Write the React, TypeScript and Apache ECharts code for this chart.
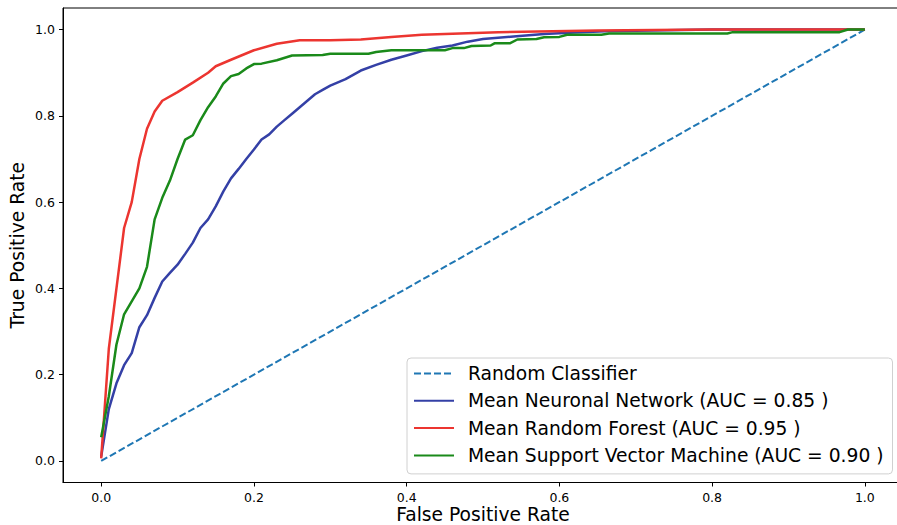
import React, { useEffect, useRef } from "react";
import * as echarts from "echarts";

// Random classifier diagonal
const randomX = [0, 1];
const randomY = [0, 1];

// Mean Neuronal Network ROC
const nnX = [0, 0.01, 0.02, 0.03, 0.04, 0.05, 0.06, 0.07, 0.08, 0.09, 0.1, 0.11, 0.12, 0.13, 0.14, 0.15, 0.16, 0.17, 0.18, 0.19, 0.2, 0.21, 0.22, 0.23, 0.24, 0.25, 0.26, 0.27, 0.28, 0.29, 0.3, 0.32, 0.34, 0.36, 0.38, 0.4, 0.42, 0.44, 0.46, 0.48, 0.5, 0.54, 0.58, 0.62, 0.66, 0.72, 0.8, 1.0];
const nnY = [0.01, 0.12, 0.18, 0.222, 0.25, 0.31, 0.338, 0.378, 0.416, 0.436, 0.455, 0.48, 0.506, 0.54, 0.56, 0.59, 0.625, 0.655, 0.677, 0.7, 0.722, 0.745, 0.757, 0.775, 0.79, 0.805, 0.82, 0.835, 0.85, 0.86, 0.87, 0.885, 0.905, 0.918, 0.93, 0.94, 0.95, 0.958, 0.963, 0.972, 0.978, 0.984, 0.99, 0.993, 0.996, 0.998, 1.0, 1.0];

// Mean Random Forest ROC
const rfX = [0, 0.01, 0.02, 0.03, 0.04, 0.05, 0.06, 0.07, 0.08, 0.1, 0.12, 0.14, 0.15, 0.17, 0.2, 0.23, 0.26, 0.3, 0.34, 0.38, 0.42, 0.52, 0.65, 0.8, 1.0];
const rfY = [0.006, 0.26, 0.4, 0.54, 0.6, 0.7, 0.77, 0.81, 0.835, 0.855, 0.877, 0.9, 0.915, 0.93, 0.952, 0.967, 0.975, 0.975, 0.977, 0.983, 0.988, 0.994, 0.998, 1.0, 1.0];

// Mean Support Vector Machine ROC
const svmX = [0, 0.01, 0.02, 0.03, 0.04, 0.05, 0.06, 0.07, 0.08, 0.09, 0.1, 0.11, 0.12, 0.13, 0.14, 0.15, 0.16, 0.17, 0.18, 0.19, 0.2, 0.21, 0.23, 0.25, 0.29, 0.3, 0.35, 0.36, 0.38, 0.45, 0.46, 0.475, 0.485, 0.51, 0.515, 0.535, 0.545, 0.57, 0.58, 0.6, 0.61, 0.655, 0.665, 0.82, 0.827, 0.967, 0.978, 1.0];
const svmY = [0.055, 0.15, 0.27, 0.34, 0.37, 0.4, 0.45, 0.56, 0.61, 0.65, 0.7, 0.745, 0.755, 0.79, 0.82, 0.845, 0.875, 0.892, 0.897, 0.91, 0.92, 0.921, 0.929, 0.94, 0.941, 0.944, 0.944, 0.948, 0.952, 0.952, 0.957, 0.957, 0.962, 0.963, 0.968, 0.968, 0.977, 0.978, 0.982, 0.983, 0.988, 0.988, 0.991, 0.991, 0.994, 0.994, 1.0, 1.0];

const tickValues = [0, 0.2, 0.4, 0.6, 0.8, 1.0];

const seriesNames = [
  "Random Classifier",
  "Mean Neuronal Network (AUC = 0.85 )",
  "Mean Random Forest (AUC = 0.95 )",
  "Mean Support Vector Machine (AUC = 0.90 )",
];

const zip = (xs: number[], ys: number[]) => xs.map((x, i) => [x, ys[i]]);

const FONT = "DejaVu Sans";

export default function App() {
  const ref = useRef<HTMLDivElement>(null);
  useEffect(() => {
    if (!ref.current) return;
    const chart = echarts.init(ref.current, undefined, { renderer: "svg" });
    const axisCommon = {
      type: "value" as const,
      min: -0.05,
      max: 1.05,
      splitLine: { show: false },
      axisLine: { show: true, onZero: false, lineStyle: { color: "#000", width: 1 } },
      axisTick: { show: true, length: 4, lineStyle: { color: "#000", width: 1 }, customValues: tickValues },
      axisLabel: {
        color: "#000",
        fontSize: 12.5,
        fontFamily: FONT,
        customValues: tickValues,
        formatter: (v: number) => v.toFixed(1),
      },
      nameLocation: "middle" as const,
      nameMoveOverlap: false,
      nameTextStyle: { color: "#000", fontSize: 18.7, fontFamily: FONT, lineHeight: 19 },
    };
    chart.setOption({
      animation: false,
      backgroundColor: "#fff",
      grid: {
        left: 63,
        top: 8,
        right: -6,
        bottom: 42.5,
        containLabel: false,
        outerBoundsMode: "none",
        show: true,
        borderColor: "#000",
        borderWidth: 1,
        backgroundColor: "transparent",
      },
      xAxis: {
        ...axisCommon,
        name: "False Positive Rate",
        nameGap: 22,
        axisLabel: { ...axisCommon.axisLabel, margin: 8 },
      },
      yAxis: {
        ...axisCommon,
        name: "True Positive Rate",
        nameGap: 36,
        axisLabel: { ...axisCommon.axisLabel, margin: 8 },
      },
      legend: {
        orient: "vertical",
        left: 407,
        top: 358,
        data: seriesNames,
        itemWidth: 40,
        itemHeight: 14,
        itemGap: 8.3,
        padding: [6, 9, 9, 6],
        backgroundColor: "rgba(255,255,255,0.85)",
        borderColor: "#d0d0d0",
        borderWidth: 1,
        borderRadius: 4,
        itemStyle: { opacity: 0 },
        textStyle: {
          color: "#000",
          fontSize: 18.7,
          fontFamily: FONT,
          lineHeight: 19,
          padding: [0, 0, 0, 9],
        },
      },
      series: [
        {
          name: seriesNames[0],
          type: "line",
          data: zip(randomX, randomY),
          symbol: "none",
          lineStyle: { color: "#1f77b4", width: 2, type: [7, 3] },
          itemStyle: { color: "#1f77b4" },
        },
        {
          name: seriesNames[1],
          type: "line",
          data: zip(nnX, nnY),
          symbol: "none",
          lineStyle: { color: "#3440a6", width: 2.5 },
          itemStyle: { color: "#3440a6" },
        },
        {
          name: seriesNames[2],
          type: "line",
          data: zip(rfX, rfY),
          symbol: "none",
          lineStyle: { color: "#ec3530", width: 2.5 },
          itemStyle: { color: "#ec3530" },
        },
        {
          name: seriesNames[3],
          type: "line",
          data: zip(svmX, svmY),
          symbol: "none",
          lineStyle: { color: "#1a8a1a", width: 2.5 },
          itemStyle: { color: "#1a8a1a" },
        },
      ],
    });
    return () => chart.dispose();
  }, []);
  return <div ref={ref} style={{ width: 897, height: 525, position: "absolute", left: 0, top: 0 }} />;
}
